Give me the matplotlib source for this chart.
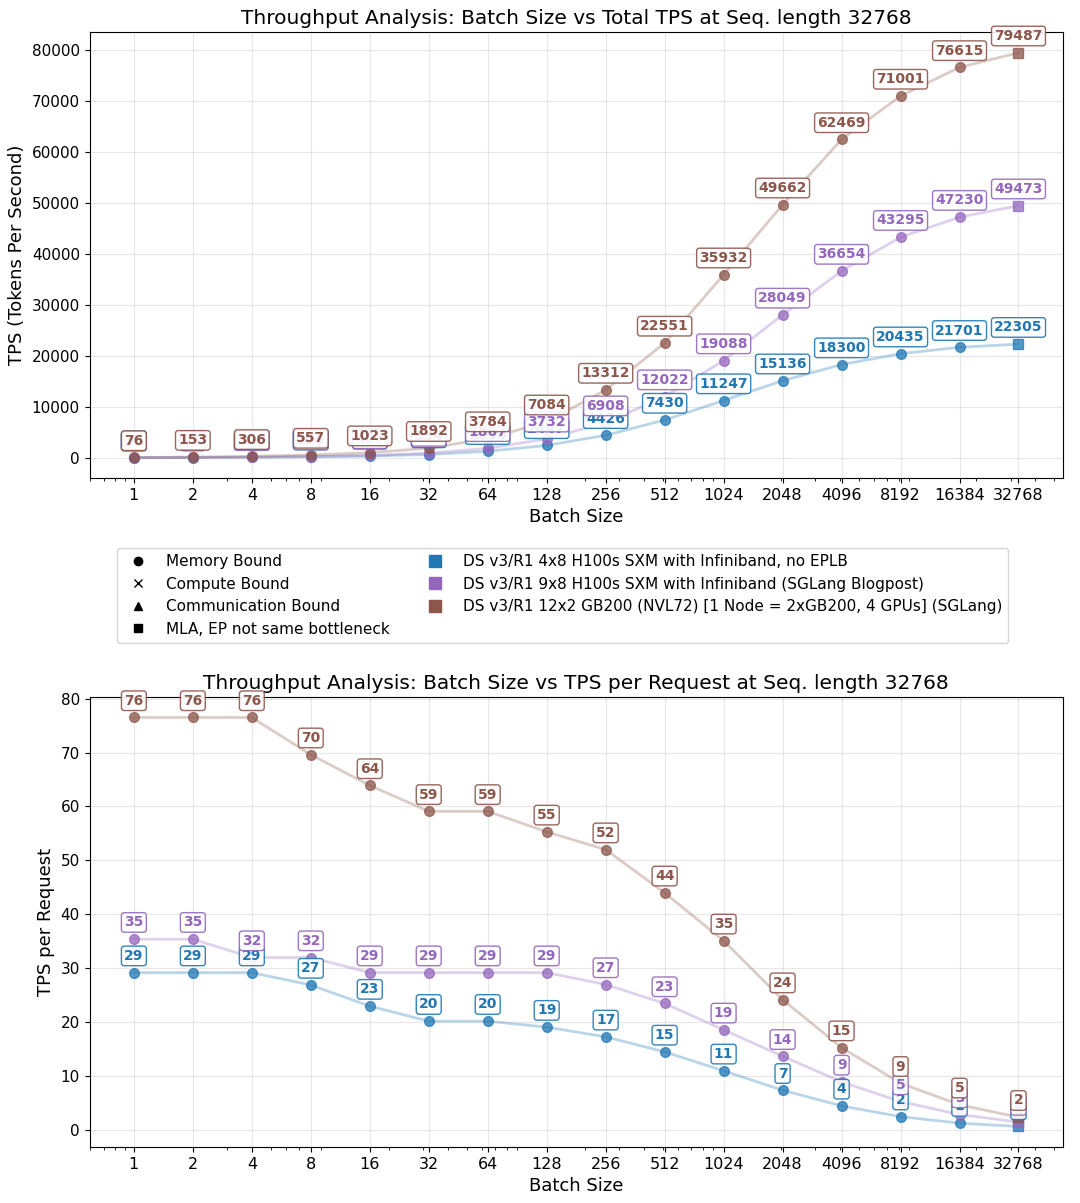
import matplotlib
matplotlib.use("Agg")
import matplotlib.pyplot as plt
from matplotlib.lines import Line2D
import numpy as np

batch_sizes = [1, 2, 4, 8, 16, 32, 64, 128, 256, 512, 1024, 2048, 4096, 8192, 16384, 32768]

series_names = [
    "DS v3/R1 4x8 H100s SXM with Infiniband, no EPLB",
    "DS v3/R1 9x8 H100s SXM with Infiniband (SGLang Blogpost)",
    "DS v3/R1 12x2 GB200 (NVL72) [1 Node = 2xGB200, 4 GPUs] (SGLang)",
]
series_colors = ["#1f77b4", "#9467bd", "#8c564b"]

tps_h100_4x8 = [29.2, 58.4, 117, 215, 368, 645, 1290, 2447, 4426, 7430, 11247, 15136, 18300, 20435, 21701, 22305]
tps_h100_9x8 = [35.4, 70.8, 128, 256, 467, 934, 1867, 3732, 6908, 12022, 19088, 28049, 36654, 43295, 47230, 49473]
tps_gb200 = [76.5, 153, 306, 557, 1023, 1892, 3784, 7084, 13312, 22551, 35932, 49662, 62469, 71001, 76615, 79487]

per_req_h100_4x8 = [29.2, 29.2, 29.2, 26.9, 23.0, 20.2, 20.2, 19.1, 17.3, 14.51, 11.0, 7.4, 4.5, 2.5, 1.3, 0.68]
per_req_h100_9x8 = [35.4, 35.4, 32.0, 32.0, 29.2, 29.2, 29.2, 29.2, 27.0, 23.48, 18.6, 13.7, 8.95, 5.3, 2.9, 1.5]
per_req_gb200 = [76.5, 76.5, 76.5, 69.6, 63.9, 59.1, 59.1, 55.3, 52.0, 44.0, 35.1, 24.2, 15.3, 8.7, 4.7, 2.4]

# marker per point: 'o' memory bound, 's' MLA/EP not same bottleneck
bottleneck_markers = ["o"] * 15 + ["s"]

tps_series = [tps_h100_4x8, tps_h100_9x8, tps_gb200]
per_req_series = [per_req_h100_4x8, per_req_h100_9x8, per_req_gb200]

fig = plt.figure(figsize=(10.8, 12.03), dpi=100)
ax1 = fig.add_axes([0.083, 0.6027, 0.901, 0.3703])
ax2 = fig.add_axes([0.083, 0.0466, 0.901, 0.374])


def draw(ax, data_list, title, ylabel):
    for vals, color in zip(data_list, series_colors):
        ax.plot(batch_sizes, vals, color=color, alpha=0.3, linewidth=2, zorder=2)
        for x, y, m in zip(batch_sizes, vals, bottleneck_markers):
            ax.plot(x, y, marker=m, color=color, markersize=7, alpha=0.75,
                    linestyle="none", zorder=3)
        for x, y in zip(batch_sizes, vals):
            ax.annotate(f"{y:.0f}", (x, y), xytext=(0, 7), textcoords="offset points",
                        ha="center", va="bottom", fontsize=10, fontweight="bold",
                        color=color, zorder=4, annotation_clip=False,
                        bbox=dict(boxstyle="round,pad=0.2", facecolor="white",
                                  edgecolor=color, alpha=0.9))
    ax.set_xscale("log")
    ax.set_xticks(batch_sizes)
    ax.set_xticklabels([str(b) for b in batch_sizes], fontsize=11.5)
    ax.tick_params(axis="y", labelsize=11)
    ax.grid(True, alpha=0.3)
    ax.set_title(title, fontsize=14.5)
    ax.set_xlabel("Batch Size", fontsize=13)
    ax.set_ylabel(ylabel, fontsize=13)


draw(ax1, tps_series, "Throughput Analysis: Batch Size vs Total TPS at Seq. length 32768",
     "TPS (Tokens Per Second)")
draw(ax2, per_req_series, "Throughput Analysis: Batch Size vs TPS per Request at Seq. length 32768",
     "TPS per Request")

marker_labels = ["Memory Bound", "Compute Bound", "Communication Bound", "MLA, EP not same bottleneck"]
marker_shapes = ["o", "x", "^", "s"]
handles = [Line2D([], [], marker=m, color="black", linestyle="none", markersize=6)
           for m in marker_shapes]
handles += [Line2D([], [], marker="s", color=c, linestyle="none", markersize=9)
            for c in series_colors]
labels = marker_labels + series_names
fig.legend(handles, labels, loc="upper center", bbox_to_anchor=(0.521, 0.551),
           ncol=2, fontsize=11, frameon=True, columnspacing=2.0)

fig.savefig("out.png", dpi=100)
